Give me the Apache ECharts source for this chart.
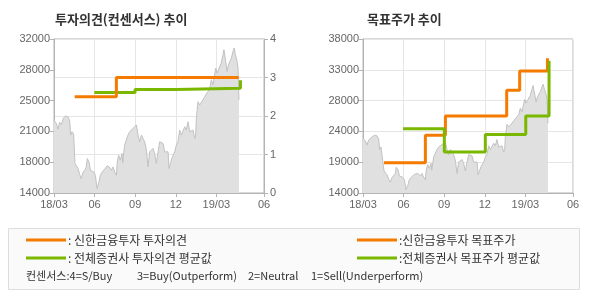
<!DOCTYPE html>
<html><head><meta charset="utf-8">
<script src="https://cdn.jsdelivr.net/npm/echarts@6/dist/echarts.min.js"></script>
<style>html,body{margin:0;padding:0;background:#fff}#c{width:590px;height:300px}</style>
</head><body><div id="c"></div>
<script>
// x positions are months since 2018-03
const xTickMonths = [0, 3, 6, 9, 12, 15.52];
const xTickLabels = ['18/03', '06', '09', '12', '19/03', '06'];
const leftPriceTicks = [14000, 17600, 21200, 24800, 28400, 32000];
const rightPriceTicks = [14000, 18800, 23600, 28400, 33200, 38000];

const priceMonths = [0,0.17,0.30,0.42,0.54,0.71,0.86,1.03,1.16,1.23,1.33,1.45,1.55,1.65,1.77,1.90,2.02,2.14,2.27,2.39,2.46,2.59,2.69,2.83,2.93,3.06,3.18,3.33,3.42,3.57,3.67,3.82,3.92,4.07,4.24,4.36,4.48,4.61,4.68,4.78,4.90,5.03,5.08,5.22,5.35,5.47,5.59,5.72,5.84,5.96,6.09,6.21,6.33,6.46,6.58,6.70,6.83,6.95,7.07,7.20,7.32,7.44,7.56,7.69,7.81,7.93,8.06,8.18,8.30,8.43,8.50,8.60,8.75,8.92,9.04,9.16,9.29,9.41,9.53,9.66,9.78,9.90,10.03,10.15,10.27,10.40,10.47,10.52,10.64,10.77,10.89,11.01,11.14,11.26,11.38,11.51,11.63,11.75,11.87,11.95,12.05,12.15,12.24,12.36,12.49,12.56,12.69,12.79,12.89,12.98,13.11,13.23,13.31,13.41,13.53,13.60,13.67];
const prices = [22530,22140,21470,22260,22020,22800,23000,22920,22410,20770,21160,20890,17450,17250,16860,16150,15680,16390,16660,17050,18030,17640,16660,16780,16460,16070,14510,15290,16070,16460,16270,16930,17170,17050,16660,17050,16460,16070,17720,18420,17840,18620,17560,19600,19400,20770,21160,20970,21550,21360,21940,20770,19990,20770,20380,19990,19010,17050,18810,19010,19210,18620,17450,18810,19990,19990,19790,18810,18620,18810,16860,17450,18230,18810,19600,19990,21360,20770,20970,21750,21360,22330,21160,20970,21360,20380,20770,22730,24680,24290,24100,24880,25270,25470,25860,26250,27230,26640,26450,28600,28010,28400,28210,29190,30160,30750,29380,28210,28990,29190,29770,30550,30950,30160,29380,28600,24880];

const shinhanOpinionMonths = [1.53, 4.61, 13.65];
const shinhanOpinion = [2.5, 3.0, 3.0];
const avgOpinionMonths = [2.98, 5.99, 9.02, 13.78];
const avgOpinion = [2.61, 2.69, 2.72, 2.93];

const shinhanTargetMonths = [1.55, 4.61, 6.09, 10.62, 11.58, 13.63];
const shinhanTarget = [18700, 23000, 26000, 30000, 33000, 35000];
const avgTargetMonths = [2.96, 6.01, 9.04, 12.03, 13.75];
const avgTarget = [24000, 20400, 23100, 26000, 34600];

const ORANGE = '#f47b00', GREEN = '#7ab800';
const zip = (a, b) => a.map((v, i) => [v, b[i]]);
const priceData = zip(priceMonths, prices);
const axisGray = '#b4b4b4', gridGray = '#e6e6e6', labelGray = '#666';
const numFont = 'Liberation Sans, Arial, sans-serif';
const krFont = '"Noto Sans CJK KR", sans-serif';

function xAxis(gi) {
  return {
    type: 'value', gridIndex: gi, min: 0, max: 15.52,
    axisLine: { show: true, lineStyle: { color: axisGray } },
    axisTick: { show: true, length: 4, customValues: xTickMonths, lineStyle: { color: axisGray } },
    axisLabel: { customValues: xTickMonths, color: labelGray, fontSize: 11, fontFamily: numFont, margin: 6,
      formatter: v => { const i = xTickMonths.indexOf(v); return i >= 0 ? xTickLabels[i] : ''; } },
    splitLine: { show: true, lineStyle: { color: gridGray } }
  };
}
const roundK = v => String(Math.round(v / 1000) * 1000);

const option = {
  animation: false,
  backgroundColor: '#fff',
  grid: [
    { left: 54, top: 39, width: 210, height: 154, show: true, borderColor: axisGray, borderWidth: 1, backgroundColor: 'transparent' },
    { left: 363, top: 39, width: 210, height: 154, show: true, borderColor: axisGray, borderWidth: 1, backgroundColor: 'transparent' }
  ],
  xAxis: [xAxis(0), xAxis(1)],
  yAxis: [
    { type: 'value', gridIndex: 0, min: 14000, max: 32000, position: 'left',
      axisLine: { show: true, lineStyle: { color: axisGray } },
      axisTick: { show: true, length: 4, customValues: leftPriceTicks, lineStyle: { color: axisGray } },
      axisLabel: { customValues: leftPriceTicks, color: labelGray, fontSize: 11, fontFamily: numFont, margin: 4, formatter: roundK },
      splitLine: { show: false } },
    { type: 'value', gridIndex: 0, min: 0, max: 4, interval: 1, position: 'right',
      axisLine: { show: true, lineStyle: { color: axisGray } },
      axisTick: { show: true, length: 4, lineStyle: { color: axisGray } },
      axisLabel: { color: labelGray, fontSize: 11, fontFamily: numFont, margin: 6 },
      splitLine: { show: true, lineStyle: { color: gridGray } } },
    { type: 'value', gridIndex: 1, min: 14000, max: 38000, position: 'left',
      axisLine: { show: true, lineStyle: { color: axisGray } },
      axisTick: { show: true, length: 4, customValues: rightPriceTicks, lineStyle: { color: axisGray } },
      axisLabel: { customValues: rightPriceTicks, color: labelGray, fontSize: 11, fontFamily: numFont, margin: 4, formatter: roundK },
      splitLine: { show: true, lineStyle: { color: gridGray } } }
  ],
  series: [
    { type: 'line', xAxisIndex: 0, yAxisIndex: 0, data: priceData, showSymbol: false, z: 1,
      lineStyle: { color: '#c2c2c2', width: 1 }, areaStyle: { color: '#e0e0e0', opacity: 1 } },
    { type: 'line', xAxisIndex: 0, yAxisIndex: 1, data: zip(avgOpinionMonths, avgOpinion), step: 'end', showSymbol: false, z: 3,
      lineStyle: { color: GREEN, width: 3 } },
    { type: 'line', xAxisIndex: 0, yAxisIndex: 1, data: zip(shinhanOpinionMonths, shinhanOpinion), step: 'end', showSymbol: false, z: 4,
      lineStyle: { color: ORANGE, width: 3 } },
    { type: 'line', xAxisIndex: 1, yAxisIndex: 2, data: priceData, showSymbol: false, z: 1,
      lineStyle: { color: '#c2c2c2', width: 1 }, areaStyle: { color: '#e0e0e0', opacity: 1 } },
    { type: 'line', xAxisIndex: 1, yAxisIndex: 2, data: zip(shinhanTargetMonths, shinhanTarget), step: 'end', showSymbol: false, z: 3,
      lineStyle: { color: ORANGE, width: 3 } },
    { type: 'line', xAxisIndex: 1, yAxisIndex: 2, data: zip(avgTargetMonths, avgTarget), step: 'end', showSymbol: false, z: 4,
      lineStyle: { color: GREEN, width: 3 } }
  ],
  graphic: [
    { type: 'text', left: 55, top: 13, style: { text: '투자의견(컨센서스) 추이', font: 'bold 13px ' + krFont, fill: '#333' } },
    { type: 'text', left: 367, top: 13, style: { text: '목표주가 추이', font: 'bold 13px ' + krFont, fill: '#333' } },
    { type: 'rect', shape: { x: 8.5, y: 228.5, width: 571, height: 61 }, style: { fill: '#fafafa', stroke: '#dddddd', lineWidth: 1 }, z: 0 },
    { type: 'line', shape: { x1: 26, y1: 240, x2: 66, y2: 240 }, style: { stroke: ORANGE, lineWidth: 3 } },
    { type: 'line', shape: { x1: 26, y1: 258, x2: 66, y2: 258 }, style: { stroke: GREEN, lineWidth: 3 } },
    { type: 'line', shape: { x1: 357, y1: 240, x2: 397, y2: 240 }, style: { stroke: ORANGE, lineWidth: 3 } },
    { type: 'line', shape: { x1: 357, y1: 258, x2: 397, y2: 258 }, style: { stroke: GREEN, lineWidth: 3 } },
    { type: 'text', x: 68, y: 240, style: { text: ': 신한금융투자 투자의견', font: '12px ' + krFont, fill: '#333', verticalAlign: 'middle' } },
    { type: 'text', x: 68, y: 258, style: { text: ': 전체증권사 투자의견 평균값', font: '12px ' + krFont, fill: '#333', verticalAlign: 'middle' } },
    { type: 'text', x: 399, y: 240, style: { text: ':신한금융투자 목표주가', font: '12px ' + krFont, fill: '#333', verticalAlign: 'middle' } },
    { type: 'text', x: 399, y: 258, style: { text: ':전체증권사 목표주가 평균값', font: '12px ' + krFont, fill: '#333', verticalAlign: 'middle' } },
    { type: 'text', x: 26, y: 276, style: { text: '컨센서스:4=S/Buy', font: '11px ' + krFont, fill: '#333', verticalAlign: 'middle' } },
    { type: 'text', x: 137, y: 276, style: { text: '3=Buy(Outperform)', font: '11px ' + krFont, fill: '#333', verticalAlign: 'middle' } },
    { type: 'text', x: 248, y: 276, style: { text: '2=Neutral', font: '11px ' + krFont, fill: '#333', verticalAlign: 'middle' } },
    { type: 'text', x: 311, y: 276, style: { text: '1=Sell(Underperform)', font: '11px ' + krFont, fill: '#333', verticalAlign: 'middle' } }
  ]
};
const chart = echarts.init(document.getElementById('c'), null, { renderer: 'canvas' });
chart.setOption(option);
</script></body></html>
